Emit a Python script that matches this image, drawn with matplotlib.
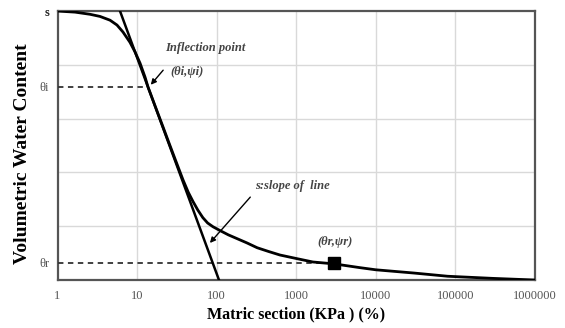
import numpy as np
import matplotlib
matplotlib.use('Agg')
import matplotlib.pyplot as plt

# ---------------------------------------------------------------------------
# Values
# ---------------------------------------------------------------------------
# soil-water characteristic curve (matric suction vs volumetric water content)
curve_x = [1, 1.66, 2.56, 3.42, 4.57, 5.59, 6.65, 8.13, 9.42, 10.9, 12.6,
           13.7, 17, 21, 25, 30, 37.8, 44, 50.4, 58, 67, 77, 90, 110, 140,
           180, 240, 323, 450, 624, 1000, 1620, 3000, 6300, 10000, 30000,
           80000, 300000, 1000000]
curve_y = [5.0, 4.98, 4.94, 4.90, 4.83, 4.74, 4.61, 4.42, 4.24, 4.03, 3.77,
           3.59, 3.22, 2.86, 2.56, 2.25, 1.86, 1.63, 1.46, 1.30, 1.16, 1.06,
           0.99, 0.92, 0.84, 0.77, 0.69, 0.60, 0.53, 0.465, 0.40, 0.335,
           0.30, 0.23, 0.19, 0.13, 0.07, 0.03, 0.0]

# tangent line through the inflection point
tangent_x = [6.1, 107]
tangent_y = [5.0, 0.0]

theta_s = 5.0
theta_i = 3.59
theta_r = 0.32
psi_i = 13.7
psi_r = 3000

x_ticks = [1, 10, 100, 1000, 10000, 100000, 1000000]
x_tick_labels = ["1", "10", "100", "1000", "10000", "100000", "1000000"]
y_ticks = [theta_s, theta_i, theta_r]
y_tick_labels = ["s", "θi", "θr"]

# ---------------------------------------------------------------------------
# Figure
# ---------------------------------------------------------------------------
plt.rcParams['font.family'] = ['Liberation Serif', 'DejaVu Serif']

fig = plt.figure(figsize=(5.65, 3.28), dpi=100)
ax = fig.add_axes([0.1018, 0.1463, 0.845, 0.820])

ax.set_xscale('log')
ax.set_xlim(1, 1000000)
ax.set_ylim(0, 5)

ax.set_xticks(x_ticks)
ax.set_xticklabels(x_tick_labels)
ax.xaxis.set_minor_locator(matplotlib.ticker.NullLocator())
ax.set_yticks(y_ticks)
ax.set_yticklabels(y_tick_labels)
ax.tick_params(axis='both', length=0, labelsize=9, labelcolor='#555555')
ax.tick_params(axis='x', pad=7)
ax.tick_params(axis='y', pad=6)
ax.get_yticklabels()[0].set_color('#222222')
ax.get_yticklabels()[0].set_fontweight('bold')

# grid
for xv in x_ticks[1:-1]:
    ax.axvline(xv, color='#d9d9d9', linewidth=1, zorder=0)
for yv in [1, 2, 3, 4]:
    ax.axhline(yv, color='#d9d9d9', linewidth=1, zorder=0)

for sp in ax.spines.values():
    sp.set_color('#555555')
    sp.set_linewidth(1.6)

# curve and tangent
ax.plot(curve_x, curve_y, color='black', linewidth=2.0, zorder=4)
ax.plot(tangent_x, tangent_y, color='black', linewidth=1.8, zorder=4)

# dashed reference lines
ax.plot([1, psi_i], [theta_i, theta_i], color='#333333', linewidth=1.3,
        linestyle=(0, (3, 2.5)), zorder=3)
ax.plot([1, psi_r], [theta_r, theta_r], color='#333333', linewidth=1.3,
        linestyle=(0, (3, 2.5)), zorder=3)
ax.plot(psi_r, theta_r, marker='s', markersize=8, color='black', zorder=5)

# annotations
ann_font = dict(family='Liberation Serif', style='italic', fontsize=9,
                color='#444444', fontweight='bold')
ax.text(22.4, 4.31, "Inflection point", va='center', ha='left', **ann_font)
ax.text(25.9, 3.87, "(θi,ψi)", va='center', ha='left', **ann_font)
ax.text(302, 1.75, "s:slope of  line", va='center', ha='left', **ann_font)
ax.text(1820, 0.71, "(θr,ψr)", va='center', ha='left', **ann_font)

ax.annotate("", xy=(14.1, 3.59), xytext=(22.4, 3.94),
            arrowprops=dict(arrowstyle='-|>', color='black', lw=1.0,
                            mutation_scale=8), zorder=6)
ax.annotate("", xy=(78, 0.65), xytext=(279, 1.58),
            arrowprops=dict(arrowstyle='-|>', color='black', lw=1.0,
                            mutation_scale=8), zorder=6)

ax.set_xlabel("Matric section (KPa ) (%)", fontsize=11.5, fontweight='bold')
ax.set_ylabel("Volumetric Water Content", fontsize=14, fontweight='bold')
ax.xaxis.set_label_coords(0.50, -0.097)
ax.yaxis.set_label_coords(-0.056, 0.47)

fig.savefig("out.png", dpi=100)
